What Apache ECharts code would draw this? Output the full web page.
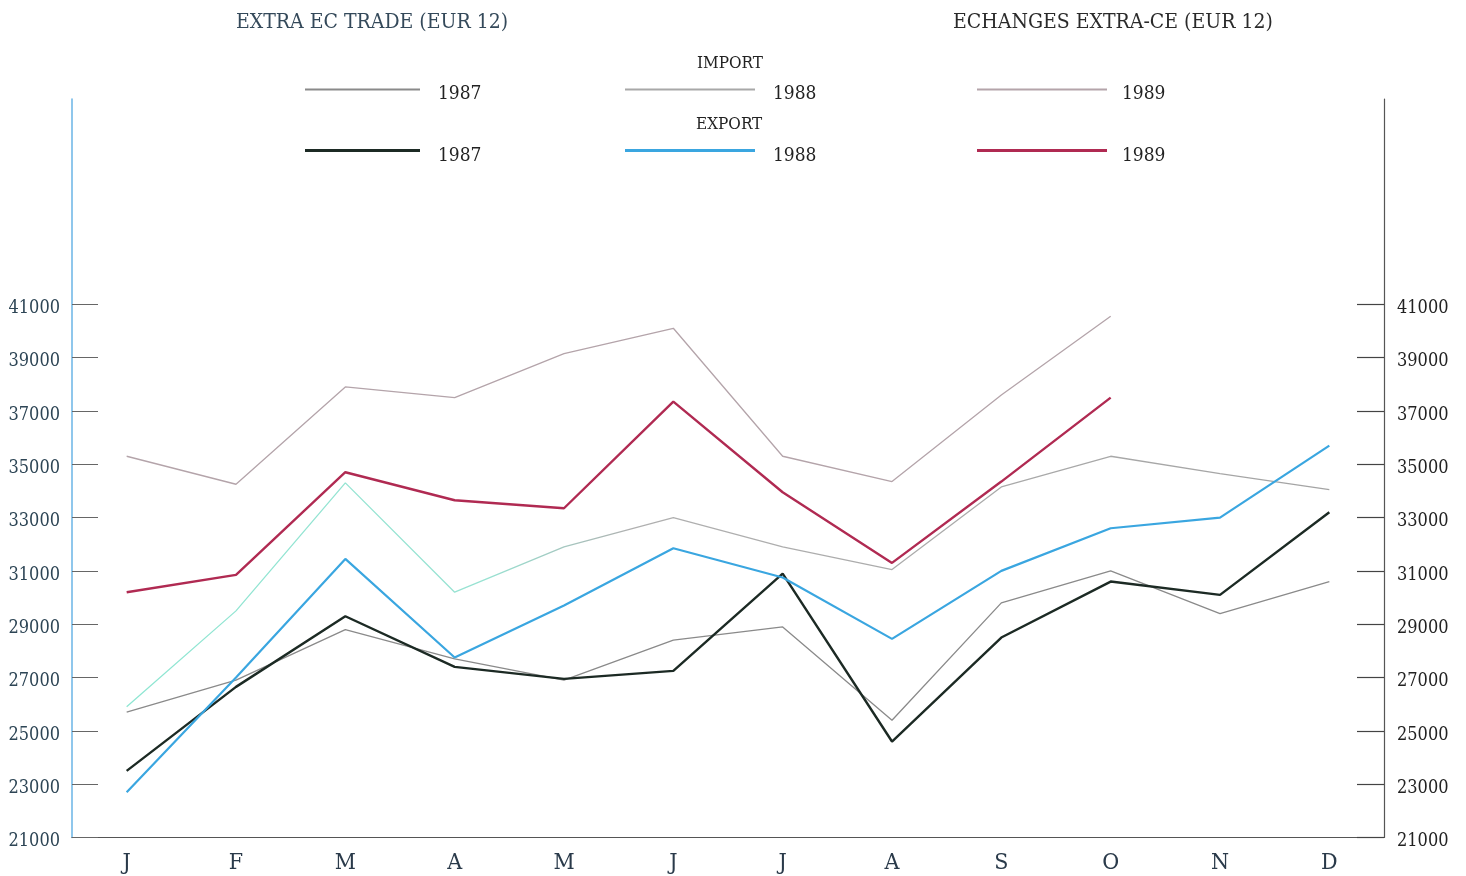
<!DOCTYPE html>
<html>
<head>
<meta charset="utf-8">
<script src="https://cdn.jsdelivr.net/npm/echarts@6/dist/echarts.min.js"></script>
<style>html,body{margin:0;padding:0;background:#fff}#c{width:1466px;height:876px}</style>
</head>
<body>
<div id="c"></div>
<script>
const months = ['J','F','M','A','M','J','J','A','S','O','N','D'];
const yTicks = [21000,23000,25000,27000,29000,31000,33000,35000,37000,39000,41000];
const import1987 = [25700, 26900, 28800, 27700, 26900, 28400, 28900, 25400, 29800, 31000, 29400, 30600];
const import1988 = [25900, 29500, 34300, 30200, 31900, 33000, 31900, 31050, 34150, 35300, 34650, 34050];
const import1989 = [35300, 34250, 37900, 37500, 39150, 40100, 35300, 34350, 37600, 40550];
const export1987 = [23500, 26650, 29300, 27400, 26950, 27250, 30900, 24600, 28500, 30600, 30100, 33200];
const export1988 = [22700, 27000, 31450, 27750, 29700, 31850, 30750, 28450, 31000, 32600, 33000, 35700];
const export1989 = [30200, 30850, 34700, 33650, 33350, 37350, 33950, 31300, 34350, 37500];

const FONT = '"DejaVu Serif Condensed","DejaVu Serif",serif';
const C = {
  i87: '#8a8a8a', i88: '#a8a8a8', i89: '#b4a4aa',
  e87: '#1c2a24', e88: '#3aa6e0', e89: '#b02a52'
};
const chart = echarts.init(document.getElementById('c'), null, {renderer: 'canvas'});

// legend sample: a line drawn at the top of a taller icon box, so the year text sits a little lower
function legendAt(name, left, top, color, thick, extra) {
  const w = left < 500 ? 115 : 130;
  const boxH = thick + extra;
  return {
    data: [{name: name, itemStyle: {color: color}}],
    left: left, top: top, padding: 0, orient: 'horizontal',
    icon: 'path://M0,0h' + w + 'v' + thick + 'h-' + w + 'zM0,' + (boxH - 0.05) + 'h0.05v0.05h-0.05z',
    itemWidth: w, itemHeight: boxH,
    selectedMode: false,
    formatter: n => n.split(' ')[1],
    textStyle: {fontFamily: FONT, fontSize: 19, color: '#222', padding: [0, 0, 0, left > 900 ? 10 : 13]}
  };
}

const mkLine = (name, data, color, width, z) => ({
  name: name, type: 'line', data: data, symbol: 'none', z: z,
  lineStyle: {color: color, width: width}, itemStyle: {color: color},
  emphasis: {disabled: true}
});

const yFmt = v => String(v);

const option = {
  animation: false,
  backgroundColor: '#ffffff',
  title: [
    {text: 'EXTRA EC TRADE (EUR 12)', left: 236, top: 12, padding: 0,
     textStyle: {fontFamily: FONT, fontSize: 21, fontWeight: 'normal', color: '#34495a'}},
    {text: 'ECHANGES EXTRA-CE (EUR 12)', left: 953, top: 12, padding: 0,
     textStyle: {fontFamily: FONT, fontSize: 21, fontWeight: 'normal', color: '#2a2a2a'}}
  ],
  graphic: [
    {type: 'text', left: 697, top: 55, style: {text: 'IMPORT', font: '17px ' + FONT, fill: '#222'}},
    {type: 'text', left: 696, top: 116, style: {text: 'EXPORT', font: '17px ' + FONT, fill: '#222'}}
  ],
  legend: [
    legendAt('Import 1987', 305, 84.5, C.i87, 2, 9),
    legendAt('Import 1988', 625, 84.5, C.i88, 2, 9),
    legendAt('Import 1989', 977, 84.5, C.i89, 2, 9),
    legendAt('Export 1987', 305, 147, C.e87, 3, 12),
    legendAt('Export 1988', 625, 147, C.e88, 3, 12),
    legendAt('Export 1989', 977, 147, C.e89, 3, 12)
  ],
  grid: {left: 72, right: 82, top: 99, bottom: 38.5, containLabel: false},
  xAxis: {
    type: 'category', data: months, boundaryGap: true,
    axisLine: {lineStyle: {color: '#555', width: 1.2}},
    axisTick: {inside: true, length: 20, lineStyle: {color: '#555', width: 1.2}},
    axisLabel: {fontFamily: FONT, fontSize: 23, color: '#2a3a4a', margin: 14}
  },
  yAxis: [
    {type: 'value', position: 'left', min: 21000, max: 48700, interval: 1000,
     splitLine: {show: false},
     axisLine: {show: true, lineStyle: {color: '#6ab4e6', width: 1.5}},
     axisTick: {show: true, inside: true, length: 26, customValues: yTicks, lineStyle: {color: '#666', width: 1}},
     axisLabel: {customValues: yTicks, formatter: yFmt, fontFamily: FONT, fontSize: 18, color: '#2d4555', margin: 12,
                 verticalAlign: 'top', lineHeight: 8}
    },
    {type: 'value', position: 'right', min: 21000, max: 48700, interval: 1000,
     splitLine: {show: false},
     axisLine: {show: true, lineStyle: {color: '#555', width: 1.2}},
     axisTick: {show: true, inside: true, length: 27, customValues: yTicks, lineStyle: {color: '#444', width: 1.2}},
     axisLabel: {customValues: yTicks, formatter: yFmt, fontFamily: FONT, fontSize: 18, color: '#222', margin: 13,
                 verticalAlign: 'top', lineHeight: 8}
    }
  ],
  series: [
    mkLine('Import 1987', import1987, C.i87, 1.3, 2),
    mkLine('Import 1988', import1988, {
      type: 'linear', x: 0, y: 0, x2: 1, y2: 0,
      colorStops: [{offset: 0, color: '#8ee6d2'}, {offset: 0.3, color: '#98e2d2'}, {offset: 0.42, color: '#b0b0b0'}, {offset: 1, color: '#a4a4a4'}]
    }, 1.3, 2),
    mkLine('Import 1989', import1989, C.i89, 1.3, 2),
    mkLine('Export 1987', export1987, C.e87, 2.4, 3),
    mkLine('Export 1988', export1988, C.e88, 2.2, 3),
    mkLine('Export 1989', export1989, C.e89, 2.4, 3)
  ]
};
chart.setOption(option);
</script>
</body>
</html>
